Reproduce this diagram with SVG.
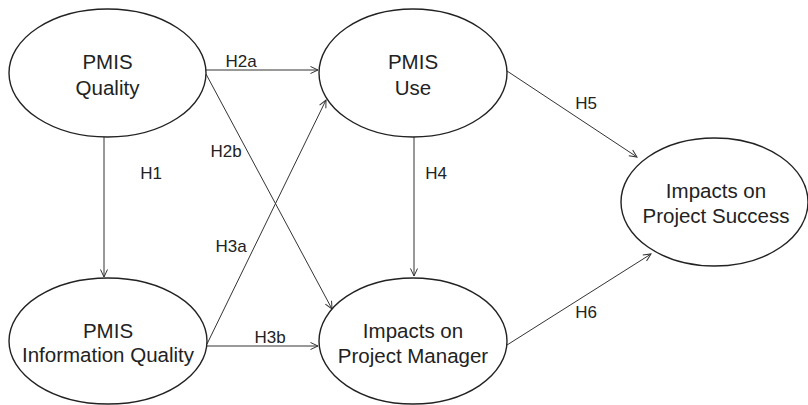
<svg xmlns="http://www.w3.org/2000/svg" width="808" height="405" viewBox="0 0 808 405">
<style>
.node ellipse{fill:#fff;stroke:#222;stroke-width:1.4}
.node text{font-family:"Liberation Sans",Arial,sans-serif;font-size:20.5px;fill:#222;text-anchor:middle}
.conn line{stroke:#333;stroke-width:1;fill:none;marker-end:url(#arr)}
.lbl{font-family:"Liberation Sans",Arial,sans-serif;font-size:17px;fill:#222;text-anchor:middle}
</style>
<defs>
<marker id="arr" markerUnits="userSpaceOnUse" markerWidth="10" markerHeight="10" refX="8" refY="4" orient="auto" viewBox="0 0 10 8">
<path d="M0.5,0.5 L8,4 L0.5,7.5" fill="none" stroke="#333" stroke-width="1"/>
</marker>
</defs>
<rect width="808" height="405" fill="#fff"/>
<g id="connectors" class="conn">
<line x1="104" y1="137" x2="104" y2="277"/>
<line x1="206" y1="70" x2="318" y2="70"/>
<line x1="206" y1="74" x2="332" y2="309"/>
<line x1="207" y1="344" x2="326" y2="100"/>
<line x1="207" y1="346" x2="318" y2="346"/>
<line x1="414" y1="137" x2="414" y2="276"/>
<line x1="507" y1="71" x2="637" y2="157"/>
<line x1="507" y1="345" x2="651" y2="254"/>
</g>
<g id="labels">
<text class="lbl" x="151" y="179">H1</text>
<text class="lbl" x="241" y="67">H2a</text>
<text class="lbl" x="226" y="157">H2b</text>
<text class="lbl" x="231" y="252">H3a</text>
<text class="lbl" x="270" y="343">H3b</text>
<text class="lbl" x="436" y="179">H4</text>
<text class="lbl" x="586" y="109">H5</text>
<text class="lbl" x="586" y="318">H6</text>
</g>
<g id="pmis-quality" class="node">
<ellipse cx="107.5" cy="73" rx="98.5" ry="64"/>
<text x="107.5" y="69">PMIS</text>
<text x="107.5" y="95">Quality</text>
</g>
<g id="pmis-use" class="node">
<ellipse cx="413" cy="73" rx="94" ry="64"/>
<text x="413" y="69">PMIS</text>
<text x="413" y="95">Use</text>
</g>
<g id="pmis-info-quality" class="node">
<ellipse cx="108" cy="341" rx="99" ry="63"/>
<text x="108" y="338">PMIS</text>
<text x="108" y="362">Information Quality</text>
</g>
<g id="impacts-pm" class="node">
<ellipse cx="413" cy="341" rx="94" ry="63"/>
<text x="413" y="338">Impacts on</text>
<text x="413" y="363">Project Manager</text>
</g>
<g id="impacts-success" class="node">
<ellipse cx="714.5" cy="202" rx="93.5" ry="64"/>
<text x="716" y="198">Impacts on</text>
<text x="716" y="223">Project Success</text>
</g>
</svg>
